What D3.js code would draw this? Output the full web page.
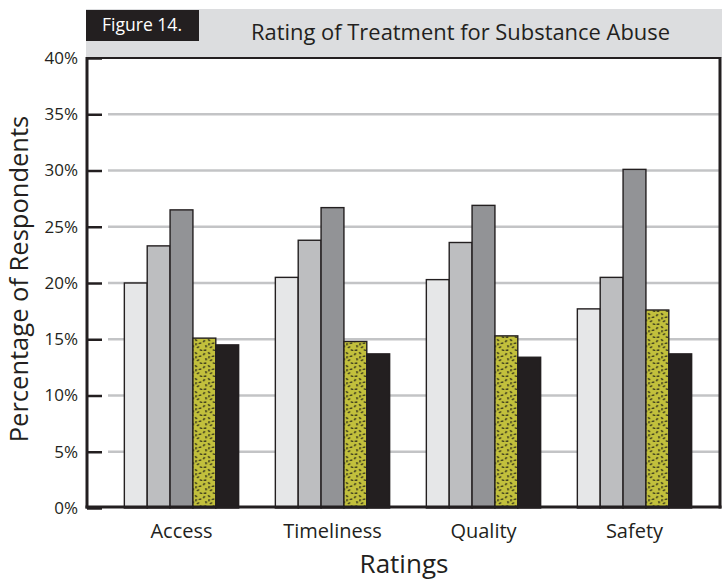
<!DOCTYPE html>
<html>
<head>
<meta charset="utf-8">
<script src="https://cdn.jsdelivr.net/npm/d3@7"></script>
<style>
  body { margin: 0; background: #fff; }
  text { font-family: "Open Sans", "DejaVu Sans", sans-serif; fill: #231f20; }
</style>
</head>
<body>
<svg id="chart" width="722" height="581"></svg>
<script>
// Rating categories along the x axis
const categories = ["Access", "Timeliness", "Quality", "Safety"];
// Five rating levels, drawn left to right inside each category
const seriesNames = ["Level 1", "Level 2", "Level 3", "Level 4", "Level 5"];
const level1 = [20.0, 20.5, 20.3, 17.7];
const level2 = [23.3, 23.8, 23.6, 20.5];
const level3 = [26.5, 26.7, 26.9, 30.1];
const level4 = [15.1, 14.8, 15.3, 17.6];
const level5 = [14.5, 13.7, 13.4, 13.7];
// Percent tick values on the y axis
const yTicks = [0, 5, 10, 15, 20, 25, 30, 35, 40];

const seriesValues = [level1, level2, level3, level4, level5];
const fills = ["#e6e7e8", "#bdbec0", "#929396", "url(#speckle)", "#231f20"];
const ink = "#231f20";

const svg = d3.select("#chart");

// Speckled yellow-green fill
const defs = svg.append("defs");
const pat = defs.append("pattern")
  .attr("id", "speckle")
  .attr("patternUnits", "userSpaceOnUse")
  .attr("width", 13).attr("height", 13);
pat.append("rect").attr("width", 13).attr("height", 13).attr("fill", "#c2c03c");
const specks = [[1,2,30],[6,1,-40],[10,4,70],[3,7,-10],[8,8,50],[11,11,-60],[2,11,80],[6,5,10]];
specks.forEach(([sx, sy, r]) => {
  pat.append("rect")
    .attr("x", sx).attr("y", sy).attr("width", 1.4).attr("height", 2.4)
    .attr("fill", "#2a2a1a")
    .attr("transform", `rotate(${r},${sx + 0.7},${sy + 1.2})`);
});

// Scales
const x0 = d3.scaleBand().domain(categories).range([106, 710])
  .paddingInner(0.243).paddingOuter(0.1215);
const x1 = d3.scaleBand().domain(seriesNames).range([0, x0.bandwidth()]);
const y = d3.scaleLinear().domain([0, 40]).range([508, 58]);

// Header band with figure tag and title
svg.append("rect").attr("x", 86).attr("y", 9).attr("width", 636).attr("height", 49)
  .attr("fill", "#dcdddf");
svg.append("rect").attr("x", 86).attr("y", 10).attr("width", 113).attr("height", 31)
  .attr("fill", ink);
svg.append("text").attr("x", 102).attr("y", 31)
  .attr("textLength", 80).attr("lengthAdjust", "spacingAndGlyphs")
  .style("font-size", "18px").style("fill", "#fff").text("Figure 14.");
svg.append("text").attr("x", 251).attr("y", 40)
  .attr("textLength", 419).attr("lengthAdjust", "spacingAndGlyphs")
  .style("font-size", "22px").text("Rating of Treatment for Substance Abuse");

// Plot area
svg.append("rect").attr("x", 87).attr("y", 58).attr("width", 633).attr("height", 449)
  .attr("fill", "#fff");

// Gridlines
svg.append("g").selectAll("line")
  .data(yTicks.filter(t => t > 0 && t < 40))
  .join("line")
  .attr("x1", 108).attr("x2", 719)
  .attr("y1", d => y(d)).attr("y2", d => y(d))
  .attr("stroke", "#c3c4c6").attr("stroke-width", 2.5);

// Bars
const groups = svg.append("g").selectAll("g")
  .data(categories)
  .join("g")
  .attr("transform", d => `translate(${x0(d)},0)`);
groups.selectAll("rect")
  .data((c, ci) => seriesNames.map((s, si) => ({ s, si, v: seriesValues[si][ci] })))
  .join("rect")
  .attr("x", d => x1(d.s))
  .attr("width", x1.bandwidth())
  .attr("y", d => y(d.v))
  .attr("height", d => y(0) - y(d.v))
  .attr("fill", d => fills[d.si])
  .attr("stroke", ink).attr("stroke-width", 1.4);

// Y axis: inward ticks, percent labels
const yAxis = svg.append("g").attr("transform", "translate(87,0)")
  .call(d3.axisLeft(y).tickValues(yTicks).tickFormat(d => d + "%")
    .tickSizeInner(-15).tickSizeOuter(0).tickPadding(9));
yAxis.select(".domain").remove();
yAxis.selectAll(".tick line").attr("stroke", ink).attr("stroke-width", 2.5);
yAxis.selectAll(".tick text").style("font-size", "17px").attr("fill", "#333");

// X axis: category labels
const xAxis = svg.append("g").attr("transform", "translate(0,507)")
  .call(d3.axisBottom(x0).tickSize(0).tickPadding(17));
xAxis.select(".domain").remove();
xAxis.selectAll(".tick text").style("font-size", "20px").attr("fill", ink);

// Frame
const frame = svg.append("g").attr("stroke", ink).attr("fill", "none");
frame.append("line").attr("x1", 87).attr("x2", 721).attr("y1", 58).attr("y2", 58).attr("stroke-width", 2);
frame.append("line").attr("x1", 87).attr("x2", 87).attr("y1", 57).attr("y2", 508.5).attr("stroke-width", 3);
frame.append("line").attr("x1", 720).attr("x2", 720).attr("y1", 57).attr("y2", 508.5).attr("stroke-width", 3);
frame.append("line").attr("x1", 85.5).attr("x2", 721.5).attr("y1", 507).attr("y2", 507).attr("stroke-width", 3);

// Axis titles
svg.append("text").attr("transform", "translate(28,279) rotate(-90)")
  .attr("text-anchor", "middle").style("font-size", "25.5px").text("Percentage of Respondents");
svg.append("text").attr("x", 404).attr("y", 573).attr("text-anchor", "middle")
  .style("font-size", "26px").text("Ratings");
</script>
</body>
</html>
